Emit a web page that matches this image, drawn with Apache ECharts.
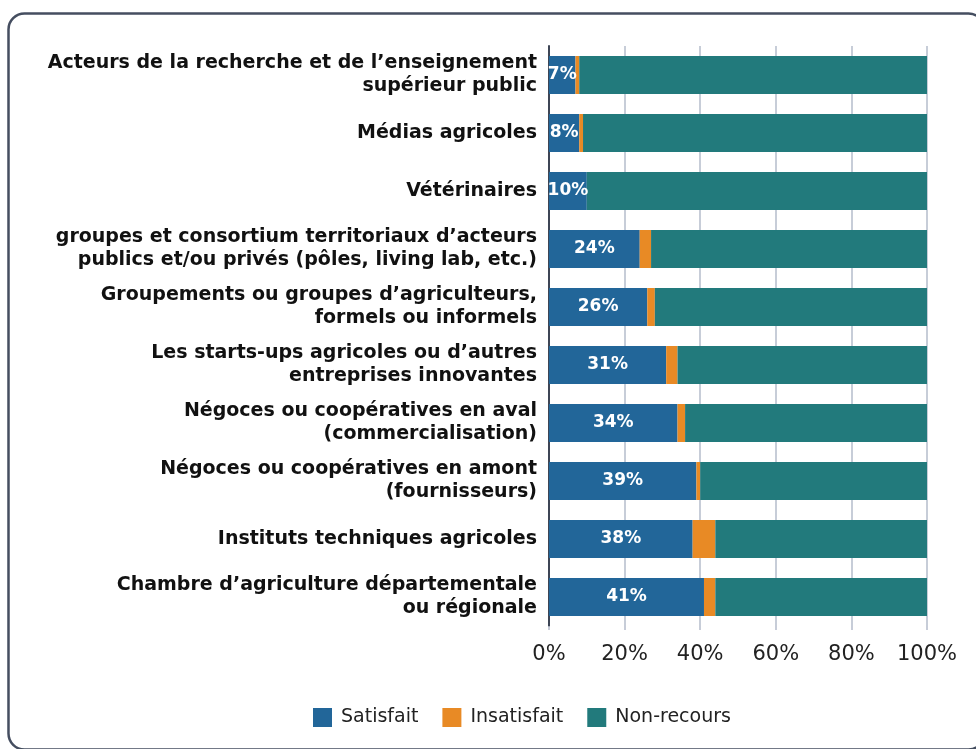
<!DOCTYPE html>
<html>
<head>
<meta charset="utf-8">
<script src="https://cdn.jsdelivr.net/npm/echarts@6/dist/echarts.min.js"></script>
<style>
html,body{margin:0;padding:0;background:#fff;}
#chart{width:976px;height:749px;}
</style>
</head>
<body>
<div id="chart"></div>
<script>
const categories = [
  "Acteurs de la recherche et de l\u2019enseignement\nsupérieur public",
  "Médias agricoles",
  "Vétérinaires",
  "groupes et consortium territoriaux d\u2019acteurs\npublics et/ou privés (pôles, living lab, etc.)",
  "Groupements ou groupes d\u2019agriculteurs,\nformels ou informels",
  "Les starts-ups agricoles ou d\u2019autres\nentreprises innovantes",
  "Négoces ou coopératives en aval\n(commercialisation)",
  "Négoces ou coopératives en amont\n(fournisseurs)",
  "Instituts techniques agricoles",
  "Chambre d\u2019agriculture départementale\nou régionale"
];
const satisfait   = [7, 8, 10, 24, 26, 31, 34, 39, 38, 41];
const insatisfait = [1, 1, 0, 3, 2, 3, 2, 1, 6, 3];
const nonRecours  = [92, 91, 90, 73, 72, 66, 64, 60, 56, 56];
const seriesNames = ["Satisfait", "Insatisfait", "Non-recours"];
const xTicks = [0, 20, 40, 60, 80, 100];

const FONT = "DejaVu Sans";
const chart = echarts.init(document.getElementById('chart'), null, {renderer: 'canvas'});
chart.setOption({
  animation: false,
  textStyle: {fontFamily: FONT},
  graphic: [{
    type: 'rect', z: -1,
    shape: {x: 8.5, y: 13.5, width: 976, height: 736, r: 16},
    style: {fill: 'none', stroke: '#454e60', lineWidth: 2.5}
  }],
  grid: {left: 549, right: 49, top: 46, bottom: 123, containLabel: false},
  legend: {
    top: 703, left: 308,
    itemWidth: 19, itemHeight: 19, itemGap: 24,
    icon: 'rect',
    textStyle: {fontSize: 19, color: '#222', fontFamily: FONT, padding: [0, 0, 0, 4]},
    data: seriesNames
  },
  xAxis: {
    type: 'value', min: xTicks[0], max: xTicks[xTicks.length-1], interval: 20,
    axisLine: {show: false},
    axisTick: {show: true, length: 4, lineStyle: {color: '#b5bccb', width: 1.5}},
    splitLine: {show: true, lineStyle: {color: '#b5bccb', width: 1.5}},
    axisLabel: {formatter: '{value}%', fontSize: 21, color: '#222', margin: 18, fontFamily: FONT}
  },
  yAxis: {
    type: 'category', inverse: true, data: categories,
    axisLine: {show: true, lineStyle: {color: '#3d4555', width: 2}},
    axisTick: {show: false},
    axisLabel: {fontSize: 19, fontWeight: 'bold', color: '#111', lineHeight: 23, margin: 12, align: 'right', fontFamily: FONT}
  },
  series: [
    {name: seriesNames[0], type: 'bar', stack: 't', data: satisfait, barWidth: 38,
     itemStyle: {color: '#226699'},
     label: {show: true, position: 'inside', formatter: '{c}%', color: '#fff', fontSize: 17, fontWeight: 'bold', fontFamily: FONT}},
    {name: seriesNames[1], type: 'bar', stack: 't', data: insatisfait, barWidth: 38,
     itemStyle: {color: '#e88a25'}},
    {name: seriesNames[2], type: 'bar', stack: 't', data: nonRecours, barWidth: 38,
     itemStyle: {color: '#227a7c'}}
  ]
});
</script>
</body>
</html>
